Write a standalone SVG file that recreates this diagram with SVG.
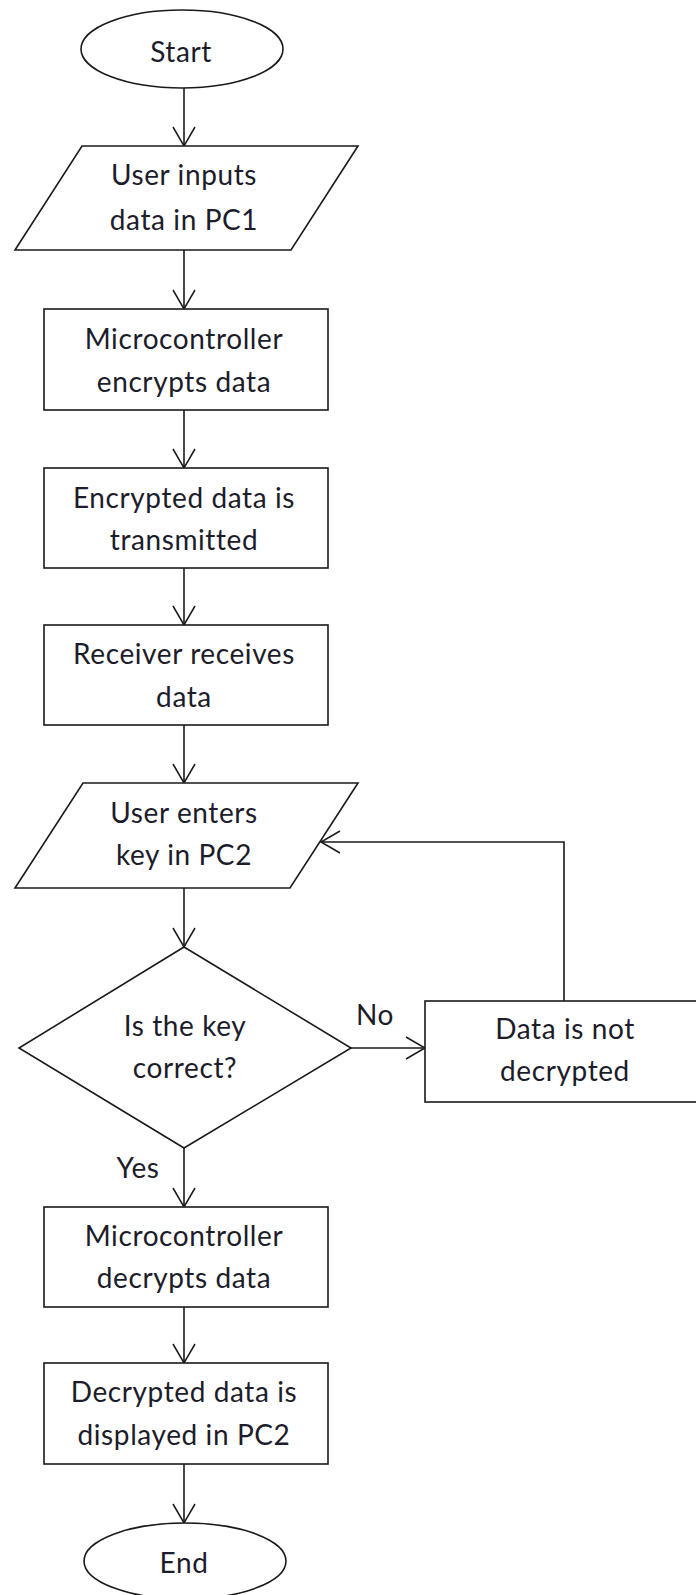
<svg xmlns="http://www.w3.org/2000/svg" width="696" height="1595" viewBox="0 0 696 1595">
  <defs>
    <marker id="arrow" markerUnits="userSpaceOnUse" markerWidth="24" markerHeight="26" refX="20" refY="12" orient="auto" viewBox="0 0 24 24" overflow="visible">
      <path d="M1 1 L20 12 L1 23" fill="none" stroke="#1a1a1a" stroke-width="1.5"/>
    </marker>
    <style>
      .shape { fill: #ffffff; stroke: #1a1a1a; stroke-width: 1.6; }
      .conn { fill: none; stroke: #1a1a1a; stroke-width: 1.6; }
      .lbl { font-family: Lato, "Open Sans", "Liberation Sans", sans-serif; font-size: 28px; letter-spacing: 0.6px; fill: #1c1c2a; text-anchor: middle; }
    </style>
  </defs>
  <rect x="0" y="0" width="696" height="1595" fill="#ffffff"/>

  <g id="connectors">
    <line class="conn" x1="184" y1="88" x2="184" y2="146" marker-end="url(#arrow)"/>
    <line class="conn" x1="184" y1="250" x2="184" y2="309" marker-end="url(#arrow)"/>
    <line class="conn" x1="184" y1="410" x2="184" y2="468" marker-end="url(#arrow)"/>
    <line class="conn" x1="184" y1="568" x2="184" y2="625" marker-end="url(#arrow)"/>
    <line class="conn" x1="184" y1="725" x2="184" y2="783" marker-end="url(#arrow)"/>
    <line class="conn" x1="184" y1="888" x2="184" y2="947" marker-end="url(#arrow)"/>
    <line class="conn" x1="351" y1="1048" x2="425" y2="1048" marker-end="url(#arrow)"/>
    <polyline class="conn" points="564,1001 564,842 321,842" marker-end="url(#arrow)"/>
    <line class="conn" x1="184" y1="1148" x2="184" y2="1207" marker-end="url(#arrow)"/>
    <line class="conn" x1="184" y1="1307" x2="184" y2="1363" marker-end="url(#arrow)"/>
    <line class="conn" x1="184" y1="1464" x2="184" y2="1523" marker-end="url(#arrow)"/>
    <text class="lbl" x="375" y="1025">No</text>
    <text class="lbl" x="138" y="1178">Yes</text>
  </g>

  <g id="start">
    <ellipse class="shape" cx="182" cy="49" rx="101" ry="39"/>
    <text class="lbl" x="181" y="62">Start</text>
  </g>

  <g id="input-pc1">
    <polygon class="shape" points="82,146 358,146 291,250 15,250"/>
    <text class="lbl" x="184" y="185">User inputs</text>
    <text class="lbl" x="184" y="230">data in PC1</text>
  </g>

  <g id="encrypt">
    <rect class="shape" x="44" y="309" width="284" height="101"/>
    <text class="lbl" x="184" y="349">Microcontroller</text>
    <text class="lbl" x="184" y="392">encrypts data</text>
  </g>

  <g id="transmit">
    <rect class="shape" x="44" y="468" width="284" height="100"/>
    <text class="lbl" x="184" y="508">Encrypted data is</text>
    <text class="lbl" x="184" y="550">transmitted</text>
  </g>

  <g id="receive">
    <rect class="shape" x="44" y="625" width="284" height="100"/>
    <text class="lbl" x="184" y="664">Receiver receives</text>
    <text class="lbl" x="184" y="707">data</text>
  </g>

  <g id="input-key">
    <polygon class="shape" points="83,783 358,783 290,888 15,888"/>
    <text class="lbl" x="184" y="823">User enters</text>
    <text class="lbl" x="184" y="865">key in PC2</text>
  </g>

  <g id="decision">
    <polygon class="shape" points="184,947 351,1048 184,1148 19,1048"/>
    <text class="lbl" x="185" y="1036">Is the key</text>
    <text class="lbl" x="185" y="1078">correct?</text>
  </g>

  <g id="not-decrypted">
    <rect class="shape" x="425" y="1001" width="290" height="101"/>
    <text class="lbl" x="565" y="1039">Data is not</text>
    <text class="lbl" x="565" y="1081">decrypted</text>
  </g>

  <g id="decrypt">
    <rect class="shape" x="44" y="1207" width="284" height="100"/>
    <text class="lbl" x="184" y="1246">Microcontroller</text>
    <text class="lbl" x="184" y="1288">decrypts data</text>
  </g>

  <g id="display">
    <rect class="shape" x="44" y="1363" width="284" height="101"/>
    <text class="lbl" x="184" y="1402">Decrypted data is</text>
    <text class="lbl" x="184" y="1445">displayed in PC2</text>
  </g>

  <g id="end">
    <ellipse class="shape" cx="185" cy="1561" rx="101" ry="38"/>
    <text class="lbl" x="184" y="1573">End</text>
  </g>
</svg>
